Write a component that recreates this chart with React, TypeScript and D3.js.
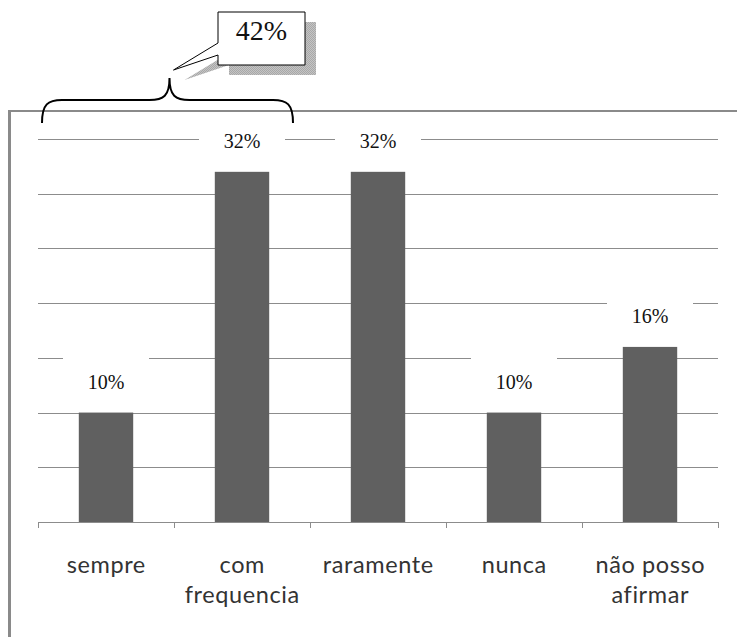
import React from "react";
import * as d3 from "d3";

// Survey answers and their shares (%)
const categories: string[][] = [
  ["sempre"],
  ["com", "frequencia"],
  ["raramente"],
  ["nunca"],
  ["não posso", "afirmar"],
];
const values: number[] = [10, 32, 32, 10, 16];
const yTicks: number[] = [5, 10, 15, 20, 25, 30, 35];
// The bracket groups the first two answers
const groupedIdx: number[] = [0, 1];

const W = 737;
const H = 637;
const plot = { left: 38, right: 718, top: 139, bottom: 522 };

export default function App() {
  const keys = categories.map((c) => c.join(" "));
  const x = d3
    .scaleBand<string>()
    .domain(keys)
    .range([plot.left, plot.right])
    .paddingInner(0.6)
    .paddingOuter(0.3);
  const y = d3.scaleLinear().domain([0, 35]).range([plot.bottom, plot.top]);
  const step = x.step();
  const boundaries = d3.range(keys.length + 1).map((i) => plot.left + i * step);

  const groupTotal = d3.sum(groupedIdx.map((i) => values[i]));
  const braceL = boundaries[groupedIdx[0]] + 4;
  const braceR = boundaries[groupedIdx[groupedIdx.length - 1] + 1] - 17;
  const braceMid = (braceL + braceR) / 2 + 2;
  const braceY = 100;
  const braceTipY = 78;
  const braceEndY = 123;
  const r = 20;
  const bracePath =
    `M${braceL},${braceEndY} C${braceL},${braceY + 4} ${braceL + 6},${braceY} ${braceL + r},${braceY} ` +
    `L${braceMid - r},${braceY} C${braceMid - 6},${braceY} ${braceMid},${braceY - 4} ${braceMid},${braceTipY} ` +
    `C${braceMid},${braceY - 4} ${braceMid + 6},${braceY} ${braceMid + r},${braceY} ` +
    `L${braceR - r},${braceY} C${braceR - 6},${braceY} ${braceR},${braceY + 4} ${braceR},${braceEndY}`;

  // Callout box with pointer toward the bracket tip
  const cb = { x0: 218, x1: 305, y0: 12, y1: 65, py0: 43, py1: 55 };
  const tip = { x: braceMid + 4, y: 70 };
  const calloutPts = (dx: number, dy: number) =>
    [
      [cb.x0, cb.y0],
      [cb.x1, cb.y0],
      [cb.x1, cb.y1],
      [cb.x0, cb.y1],
      [cb.x0, cb.py1],
      [tip.x, tip.y],
      [cb.x0, cb.py0],
    ]
      .map(([a, b]) => `${a + dx},${b + dy}`)
      .join(" ");

  const sans = "Lato, 'Noto Sans', sans-serif";
  const serif = "'Liberation Serif', 'DejaVu Serif', serif";
  const ls = 0.6;

  return (
    <svg
      width={W}
      height={H}
      style={{ position: "absolute", left: 0, top: 0, background: "#fff" }}
    >
      <defs>
        <pattern id="stip" width="2" height="2" patternUnits="userSpaceOnUse">
          <rect width="2" height="2" fill="#c4c4c4" />
          <rect width="1" height="1" fill="#a8a8a8" />
          <rect x="1" y="1" width="1" height="1" fill="#a8a8a8" />
        </pattern>
      </defs>

      {/* chart frame */}
      <line x1={9.5} x2={9.5} y1={110} y2={H} stroke="#8a8a8a" strokeWidth={3} />
      <line x1={8} x2={W} y1={111} y2={111} stroke="#8a8a8a" strokeWidth={2} />

      {/* gridlines */}
      {yTicks.map((t) => (
        <line
          key={t}
          x1={plot.left}
          x2={plot.right}
          y1={Math.round(y(t)) + 0.5}
          y2={Math.round(y(t)) + 0.5}
          stroke="#8c8c8c"
          strokeWidth={1}
        />
      ))}

      {/* bars */}
      {values.map((v, i) => (
        <rect
          key={keys[i]}
          x={x(keys[i])}
          y={y(v)}
          width={x.bandwidth()}
          height={y(0) - y(v)}
          fill="#606060"
        />
      ))}

      {/* category axis */}
      <line
        x1={plot.left}
        x2={plot.right}
        y1={plot.bottom + 0.5}
        y2={plot.bottom + 0.5}
        stroke="#8c8c8c"
      />
      {boundaries.map((b, i) => (
        <line
          key={i}
          x1={Math.round(b) + 0.5}
          x2={Math.round(b) + 0.5}
          y1={plot.bottom}
          y2={plot.bottom + 6}
          stroke="#8c8c8c"
        />
      ))}
      {categories.map((lines, i) => (
        <text
          key={keys[i]}
          x={(x(keys[i]) as number) + x.bandwidth() / 2 + ls / 2}
          y={573}
          textAnchor="middle"
          fontFamily={sans}
          fontSize={23.5}
          letterSpacing={ls}
          fill="#333"
        >
          {lines.map((l, j) => (
            <tspan
              key={j}
              x={(x(keys[i]) as number) + x.bandwidth() / 2 + ls / 2}
              dy={j === 0 ? 0 : 30}
            >
              {l}
            </tspan>
          ))}
        </text>
      ))}

      {/* value labels */}
      {values.map((v, i) => {
        const cx = (x(keys[i]) as number) + x.bandwidth() / 2;
        const base = y(v) - 24;
        return (
          <g key={keys[i]}>
            <rect x={cx - 43} y={base - 31} width={86} height={45} fill="#fff" />
            <text
              x={cx}
              y={base}
              textAnchor="middle"
              fontFamily={serif}
              fontSize={20}
              fill="#111"
            >
              {v}%
            </text>
          </g>
        );
      })}

      {/* bracket and callout */}
      <path d={bracePath} fill="none" stroke="#000" strokeWidth={2} />
      <polygon points={calloutPts(11, 10)} fill="url(#stip)" />
      <polygon points={calloutPts(0, 0)} fill="#fff" stroke="#000" strokeWidth={1} />
      <text
        x={(cb.x0 + cb.x1) / 2}
        y={40}
        textAnchor="middle"
        fontFamily={serif}
        fontSize={28}
        fill="#111"
      >
        {groupTotal}%
      </text>
    </svg>
  );
}
